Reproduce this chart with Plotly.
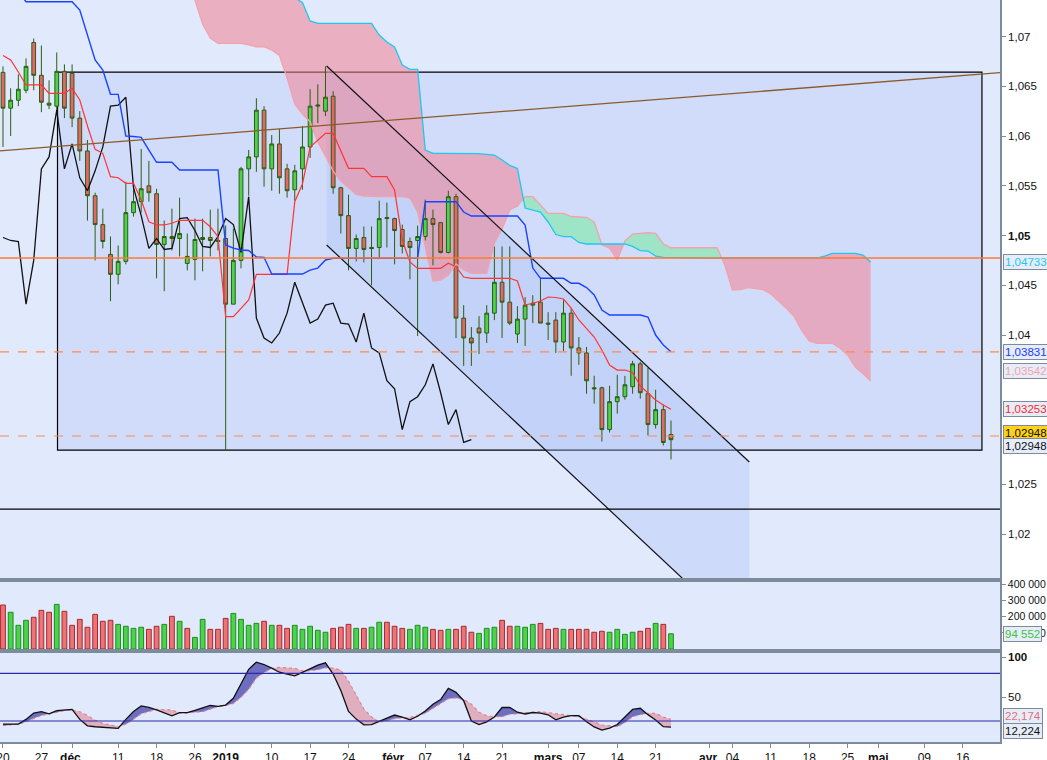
import numpy as np
import pandas as pd
import plotly.graph_objects as go

# trading calendar: weekdays without Christmas / New Year
HOLIDAYS = ["2018-12-25", "2019-01-01"]
days = pd.bdate_range("2018-11-20", "2019-06-28", freq="C", holidays=HOLIDAYS)
day_pos = {d.strftime("%Y-%m-%d"): i for i, d in enumerate(days)}

tick_dates = ["2018-11-20", "2018-11-27", "2018-12-03", "2018-12-11", "2018-12-18",
              "2018-12-26", "2019-01-02", "2019-01-10", "2019-01-17", "2019-01-24",
              "2019-02-01", "2019-02-07", "2019-02-14", "2019-02-21", "2019-03-01",
              "2019-03-07", "2019-03-14", "2019-03-21", "2019-04-01", "2019-04-04",
              "2019-04-11", "2019-04-18", "2019-04-25", "2019-05-01", "2019-05-09",
              "2019-05-16"]
tick_labels = ["20", "27", "<b>déc.</b>", "11", "18", "26", "<b>2019</b>", "10", "17", "24",
               "<b>févr.</b>", "07", "14", "21", "<b>mars</b>", "07", "14", "21", "<b>avr.</b>",
               "04", "11", "18", "25", "<b>mai</b>", "09", "16"]

# daily candles, 20 nov. 2018 -> 25 mars 2019
opens = [1.0664, 1.0628, 1.0636, 1.0646, 1.0694, 1.0661, 1.0633, 1.0630, 1.0665, 1.0663,
         1.0618, 1.0585, 1.0540, 1.0511, 1.0481, 1.0461, 1.0474, 1.0523, 1.0534, 1.0550,
         1.0542, 1.0491, 1.0497, 1.0497, 1.0472, 1.0476, 1.0496, 1.0498, 1.0495, 1.0497,
         1.0431, 1.0475, 1.0567, 1.0579, 1.0626, 1.0567, 1.0592, 1.0567, 1.0546, 1.0567,
         1.0589, 1.0630, 1.0625, 1.0640, 1.0548, 1.0520, 1.0487, 1.0498, 1.0488, 1.0488,
         1.0517, 1.0517, 1.0506, 1.0494, 1.0495, 1.0499, 1.0517, 1.0513, 1.0483, 1.0539,
         1.0417, 1.0397, 1.0407, 1.0402, 1.0422, 1.0453, 1.0433, 1.0401, 1.0416, 1.0430,
         1.0433, 1.0412, 1.0415, 1.0393, 1.0422, 1.0387, 1.0382, 1.0347, 1.0347, 1.0305,
         1.0333, 1.0338, 1.0348, 1.0371, 1.0341, 1.0310, 1.0325, 1.0300]
highs = [1.0670, 1.0648, 1.0662, 1.0678, 1.0698, 1.0691, 1.0656, 1.0684, 1.0672, 1.0672,
         1.0625, 1.0596, 1.0543, 1.0527, 1.0499, 1.0490, 1.0554, 1.0552, 1.0587, 1.0575,
         1.0547, 1.0515, 1.0527, 1.0538, 1.0502, 1.0517, 1.0517, 1.0526, 1.0527, 1.0510,
         1.0507, 1.0569, 1.0586, 1.0638, 1.0630, 1.0601, 1.0607, 1.0572, 1.0571, 1.0610,
         1.0647, 1.0652, 1.0670, 1.0645, 1.0549, 1.0541, 1.0501, 1.0509, 1.0509, 1.0535,
         1.0533, 1.0518, 1.0511, 1.0498, 1.0510, 1.0536, 1.0526, 1.0513, 1.0545, 1.0542,
         1.0430, 1.0408, 1.0419, 1.0430, 1.0489, 1.0489, 1.0489, 1.0429, 1.0438, 1.0440,
         1.0457, 1.0423, 1.0423, 1.0435, 1.0427, 1.0398, 1.0388, 1.0359, 1.0348, 1.0349,
         1.0360, 1.0359, 1.0374, 1.0373, 1.0367, 1.0345, 1.0330, 1.0314]
lows = [1.0589, 1.0600, 1.0630, 1.0643, 1.0646, 1.0624, 1.0627, 1.0623, 1.0618, 1.0609,
        1.0575, 1.0515, 1.0475, 1.0487, 1.0434, 1.0451, 1.0471, 1.0519, 1.0523, 1.0534,
        1.0457, 1.0444, 1.0485, 1.0479, 1.0465, 1.0455, 1.0464, 1.0479, 1.0485, 1.0284,
        1.0431, 1.0467, 1.0540, 1.0564, 1.0549, 1.0545, 1.0542, 1.0538, 1.0535, 1.0546,
        1.0578, 1.0613, 1.0620, 1.0542, 1.0502, 1.0465, 1.0474, 1.0473, 1.0450, 1.0478,
        1.0488, 1.0471, 1.0482, 1.0456, 1.0399, 1.0495, 1.0470, 1.0482, 1.0482, 1.0397,
        1.0369, 1.0369, 1.0381, 1.0392, 1.0415, 1.0397, 1.0410, 1.0392, 1.0389, 1.0412,
        1.0412, 1.0395, 1.0382, 1.0384, 1.0359, 1.0370, 1.0341, 1.0331, 1.0293, 1.0302,
        1.0321, 1.0335, 1.0341, 1.0336, 1.0299, 1.0306, 1.0289, 1.0275]
closes = [1.0628, 1.0636, 1.0647, 1.0670, 1.0661, 1.0634, 1.0631, 1.0665, 1.0628, 1.0618,
          1.0585, 1.0540, 1.0511, 1.0494, 1.0461, 1.0474, 1.0523, 1.0534, 1.0547, 1.0543,
          1.0491, 1.0499, 1.0499, 1.0502, 1.0479, 1.0496, 1.0498, 1.0495, 1.0494, 1.0431,
          1.0475, 1.0567, 1.0579, 1.0626, 1.0567, 1.0592, 1.0558, 1.0545, 1.0565, 1.0589,
          1.0630, 1.0631, 1.0639, 1.0548, 1.0520, 1.0487, 1.0497, 1.0486, 1.0487, 1.0517,
          1.0518, 1.0505, 1.0489, 1.0488, 1.0499, 1.0517, 1.0511, 1.0483, 1.0539, 1.0417,
          1.0397, 1.0392, 1.0402, 1.0422, 1.0453, 1.0433, 1.0412, 1.0416, 1.0430, 1.0432,
          1.0412, 1.0411, 1.0393, 1.0422, 1.0387, 1.0382, 1.0354, 1.0346, 1.0305, 1.0333,
          1.0338, 1.0350, 1.0371, 1.0342, 1.0310, 1.0325, 1.0292, 1.02948]

# Ichimoku
tenkan = [1.06809, 1.06764, 1.06643, 1.06513, 1.06513, 1.06513, 1.06429, 1.06429, 1.06429, 1.06479,
          1.06362, 1.06101, 1.05866, 1.05826, 1.05591, 1.05581, 1.05525, 1.05525, 1.05357, 1.05139,
          1.05106, 1.05106, 1.05123, 1.05153, 1.05153, 1.05153, 1.05153, 1.05088, 1.04988, 1.04184,
          1.04184, 1.04268, 1.04352, 1.04610, 1.04610, 1.04610, 1.04610, 1.04610, 1.05340, 1.05518,
          1.05889, 1.05960, 1.06027, 1.06027, 1.05859, 1.05675, 1.05675, 1.05675, 1.05591, 1.05591,
          1.05591, 1.05457, 1.04955, 1.04734, 1.04670, 1.04670, 1.04670, 1.04670, 1.04721, 1.04686,
          1.04583, 1.04570, 1.04570, 1.04570, 1.04570, 1.04570, 1.04570, 1.04543, 1.04302, 1.04319,
          1.04342, 1.04382, 1.04377, 1.04362, 1.04271, 1.04151, 1.04060, 1.03980, 1.03849, 1.03699,
          1.03648, 1.03648, 1.03623, 1.03488, 1.03417, 1.03347, 1.03297, 1.03253]
kijun = [1.07450, 1.07450, 1.07450, 1.07350, 1.07350, 1.07350, 1.07350, 1.07350, 1.07350, 1.07350,
         1.07266, 1.07005, 1.06764, 1.06663, 1.06419, 1.06419, 1.06000, 1.05995, 1.05987, 1.05859,
         1.05736, 1.05736, 1.05736, 1.05658, 1.05658, 1.05658, 1.05658, 1.05658, 1.05658, 1.04905,
         1.04874, 1.04854, 1.04849, 1.04784, 1.04781, 1.04613, 1.04613, 1.04613, 1.04613, 1.04613,
         1.04653, 1.04673, 1.04754, 1.04771, 1.04771, 1.04771, 1.04771, 1.04771, 1.04771, 1.04771,
         1.04771, 1.04771, 1.04771, 1.04771, 1.04771, 1.05340, 1.05340, 1.05340, 1.05340, 1.05340,
         1.05236, 1.05196, 1.05196, 1.05196, 1.05196, 1.05196, 1.05196, 1.05196, 1.05106, 1.04673,
         1.04570, 1.04570, 1.04570, 1.04570, 1.04520, 1.04520, 1.04477, 1.04402, 1.04251, 1.04201,
         1.04201, 1.04201, 1.04201, 1.04201, 1.04181, 1.04000, 1.03900, 1.03831]
CLOUD_START = 24  # first session index of the senkou arrays below
senkou_a = [1.07570, 1.07367, 1.07126, 1.06985, 1.06932, 1.06932, 1.06932, 1.06932, 1.06915, 1.06897,
            1.06897, 1.06864, 1.06809, 1.06583, 1.06322, 1.06221, 1.06144, 1.05940, 1.05799, 1.05648,
            1.05548, 1.05477, 1.05412, 1.05397, 1.05392, 1.05390, 1.05390, 1.05390, 1.05390, 1.05377,
            1.05236, 1.04884, 1.04543, 1.04553, 1.04603, 1.04714, 1.04653, 1.04620, 1.04620, 1.04620,
            1.04925, 1.05065, 1.05256, 1.05297, 1.05390, 1.05390, 1.05307, 1.05223, 1.05223, 1.05223,
            1.05191, 1.05186, 1.05183, 1.05136, 1.04905, 1.04874, 1.04754, 1.04945, 1.05015, 1.05022,
            1.05028, 1.05022, 1.04915, 1.04877, 1.04877, 1.04877, 1.04877, 1.04877, 1.04877, 1.04877,
            1.04704, 1.04452, 1.04457, 1.04477, 1.04467, 1.04456, 1.04412, 1.04342, 1.04271, 1.04191,
            1.04050, 1.03940, 1.03917, 1.03917, 1.03917, 1.03870, 1.03799, 1.03678, 1.03613, 1.03538]
senkou_b = [1.07900, 1.07900, 1.07900, 1.07900, 1.07900, 1.07900, 1.07900, 1.07900, 1.07900, 1.07900,
            1.07900, 1.07900, 1.07900, 1.07650, 1.07390, 1.07342, 1.07156, 1.07133, 1.07133, 1.07133,
            1.07133, 1.07133, 1.07133, 1.07133, 1.07133, 1.07015, 1.06945, 1.06894, 1.06714, 1.06670,
            1.06670, 1.05859, 1.05826, 1.05826, 1.05826, 1.05826, 1.05826, 1.05826, 1.05823, 1.05816,
            1.05809, 1.05759, 1.05704, 1.05675, 1.05276, 1.05256, 1.05236, 1.05136, 1.05010, 1.04988,
            1.04988, 1.04930, 1.04915, 1.04915, 1.04915, 1.04915, 1.04915, 1.04915, 1.04890, 1.04849,
            1.04844, 1.04794, 1.04781, 1.04779, 1.04774, 1.04774, 1.04774, 1.04774, 1.04774, 1.04774,
            1.04774, 1.04774, 1.04774, 1.04774, 1.04774, 1.04774, 1.04774, 1.04774, 1.04774, 1.04774,
            1.04774, 1.04774, 1.04774, 1.04794, 1.04821, 1.04821, 1.04821, 1.04821, 1.04804, 1.04733]
CHIKOU_LAG = 26

# volume
volumes = [273000, 228000, 147000, 178000, 197000, 240000, 228000, 277000, 234000, 147000,
           184000, 135000, 215000, 172000, 178000, 153000, 141000, 128000, 135000, 122000,
           141000, 153000, 203000, 172000, 128000, 72000, 184000, 122000, 122000, 190000,
           221000, 184000, 147000, 159000, 172000, 147000, 147000, 128000, 147000, 122000,
           141000, 116000, 104000, 128000, 135000, 153000, 128000, 128000, 135000, 166000,
           166000, 141000, 128000, 122000, 147000, 135000, 122000, 116000, 122000, 122000,
           141000, 104000, 97000, 128000, 135000, 178000, 141000, 141000, 135000, 153000,
           159000, 122000, 128000, 122000, 122000, 122000, 122000, 104000, 110000, 104000,
           122000, 91000, 104000, 110000, 128000, 159000, 153000, 94552]
# bar colour as drawn: u = green, d = red
vol_dir = ("duuudddudd" "ddddduuuud" "dududuuddd" "uuuududduu" "uuuddduduu"
           "ddduuuddud" "dduuudduuu" "dddudddddu" "uuuddudu")

# stochastic
stoch_k = [16.2, 16.2, 16.2, 22.0, 30.0, 31.7, 29.0, 33.0, 34.0, 34.6,
           22.0, 14.0, 12.8, 12.2, 11.5, 10.8, 22.0, 32.0, 39.0, 37.0,
           34.0, 30.0, 26.5, 30.5, 30.5, 33.5, 37.0, 39.5, 38.5, 40.0,
           48.5, 66.0, 85.0, 94.0, 91.0, 86.4, 81.3, 78.8, 76.7, 81.2,
           86.0, 90.2, 93.2, 79.0, 58.4, 32.0, 22.4, 15.2, 15.4, 19.0,
           23.5, 27.5, 25.0, 21.5, 26.0, 32.5, 41.0, 47.0, 61.0, 56.0,
           45.5, 20.0, 15.5, 19.0, 25.0, 37.0, 37.0, 31.0, 28.8, 30.7,
           30.0, 27.8, 21.5, 25.0, 26.7, 26.7, 19.0, 12.5, 8.5, 11.0,
           15.5, 25.0, 34.5, 36.0, 28.0, 21.3, 12.8, 12.224]
stoch_d = [14.0, 15.0, 16.2, 19.0, 23.5, 27.0, 29.0, 31.0, 33.0, 33.8,
           31.7, 27.0, 21.0, 17.0, 14.5, 12.9, 16.0, 22.0, 29.0, 32.0,
           34.6, 34.4, 33.8, 30.0, 30.0, 31.0, 31.7, 35.0, 38.0, 39.5,
           42.0, 50.0, 60.0, 74.0, 81.0, 86.0, 87.5, 86.8, 86.2, 83.0,
           83.0, 84.5, 87.0, 86.5, 84.0, 70.0, 52.0, 35.0, 25.0, 18.5,
           20.0, 23.0, 24.0, 24.6, 27.0, 29.6, 36.0, 42.0, 48.0, 49.0,
           47.0, 41.0, 31.0, 26.5, 25.4, 25.4, 28.5, 29.0, 30.5, 31.0,
           31.7, 30.5, 29.6, 28.0, 26.5, 25.4, 22.0, 19.0, 15.0, 14.0,
           12.9, 18.0, 25.4, 28.0, 29.5, 29.6, 25.0, 22.174]

# drawn objects (session index, price)
box_x = [7.1, 127.5]
box_y = [1.02844, 1.06643]
channel_x = [42.15, 97.2]
channel_upper = [1.06704, 1.02724]
channel_lower = [1.04905, 1.00925]
trend_x = [-0.4, 130.0]
trend_y = [1.05851, 1.06638]
level_solid = 1.04774
levels_dashed = [1.03831, 1.02985]
level_black = 1.02251

X_RANGE = [-0.39, 129.85]
Y_RANGE = [1.01558, 1.07367]
N = len(opens)
xs = list(range(N))


def band(x, top, bot):
    """polygon filling the area where top > bot (crossings inserted)"""
    px, pt, pb = [x[0]], [top[0]], [bot[0]]
    for k in range(1, len(x)):
        d0, d1 = top[k - 1] - bot[k - 1], top[k] - bot[k]
        if d0 * d1 < 0:
            f = d0 / (d0 - d1)
            px.append(x[k - 1] + f * (x[k] - x[k - 1]))
            yc = top[k - 1] + f * (top[k] - top[k - 1])
            pt.append(yc)
            pb.append(yc)
        px.append(x[k])
        pt.append(top[k])
        pb.append(bot[k])
    px, pt, pb = np.array(px), np.array(pt), np.array(pb)
    upper = np.maximum(pt, pb)
    return list(px) + list(px[::-1]), list(upper) + list(pb[::-1])


fig = go.Figure()

# --- base price layer (y): channel shading and kumo fills ---
fig.add_trace(go.Scatter(
    x=[channel_x[0], channel_x[1], channel_x[1], channel_x[0], channel_x[0]],
    y=[channel_upper[0], channel_upper[1], channel_lower[1], channel_lower[0], channel_upper[0]],
    fill="toself", fillcolor="rgba(170,192,246,0.35)", mode="lines", line_width=0,
    hoverinfo="skip"))

cx = [CLOUD_START + i for i in range(len(senkou_a))]
bx, by = band(cx, senkou_b, senkou_a)
fig.add_trace(go.Scatter(x=bx, y=by, fill="toself", fillcolor="rgba(242,130,146,0.55)",
                         mode="lines", line_width=0, hoverinfo="skip"))
gx, gy = band(cx, senkou_a, senkou_b)
fig.add_trace(go.Scatter(x=gx, y=gy, fill="toself", fillcolor="rgba(130,232,170,0.65)",
                         mode="lines", line_width=0, hoverinfo="skip"))

# --- overlay price layer (y4): candles above the cloud, lines above candles ---
fig.add_trace(go.Candlestick(
    x=xs, open=opens, high=highs, low=lows, close=closes, yaxis="y4",
    increasing=dict(fillcolor="#4cd24c", line=dict(color="#2b5e10", width=1)),
    decreasing=dict(fillcolor="#e4666a", line=dict(color="#2b5e10", width=1)),
    whiskerwidth=0))
fig.add_trace(go.Scatter(x=cx, y=senkou_a, yaxis="y4", mode="lines",
                         line=dict(color="#f4a2aa", width=1.3)))
fig.add_trace(go.Scatter(x=cx, y=senkou_b, yaxis="y4", mode="lines",
                         line=dict(color="#1ec8f0", width=1.3)))
fig.add_trace(go.Scatter(x=xs[:N - CHIKOU_LAG], y=closes[CHIKOU_LAG:], yaxis="y4", mode="lines",
                         line=dict(color="#111111", width=1.3)))
fig.add_trace(go.Scatter(x=xs, y=tenkan, yaxis="y4", mode="lines",
                         line=dict(color="#ff3434", width=1.2)))
fig.add_trace(go.Scatter(x=xs, y=kijun, yaxis="y4", mode="lines",
                         line=dict(color="#1844ff", width=1.4)))
for ys in (channel_upper, channel_lower):
    fig.add_trace(go.Scatter(x=channel_x, y=ys, yaxis="y4", mode="lines",
                             line=dict(color="#111111", width=1.2)))
fig.add_trace(go.Scatter(x=trend_x, y=trend_y, yaxis="y4", mode="lines",
                         line=dict(color="#8c5a2a", width=1.3)))

# volume
up_col, dn_col = "#4cd24c", "#ec7478"
fig.add_trace(go.Bar(
    x=xs, y=volumes, xaxis="x2", yaxis="y2", width=0.62,
    marker=dict(color=[up_col if c == "u" else dn_col for c in vol_dir],
                line=dict(color=["#1e8c1e" if c == "u" else "#a82828" for c in vol_dir], width=1))))

# stochastic
kx, ky = band(xs, stoch_k, stoch_d)
fig.add_trace(go.Scatter(x=kx, y=ky, xaxis="x3", yaxis="y3", fill="toself",
                         fillcolor="rgba(62,62,170,0.72)", mode="lines", line_width=0))
dx, dy = band(xs, stoch_d, stoch_k)
fig.add_trace(go.Scatter(x=dx, y=dy, xaxis="x3", yaxis="y3", fill="toself",
                         fillcolor="rgba(220,120,135,0.52)", mode="lines", line_width=0))
fig.add_trace(go.Scatter(x=xs, y=stoch_d, xaxis="x3", yaxis="y3", mode="lines",
                         line=dict(color="#e8808c", width=1.2, dash="dot")))
fig.add_trace(go.Scatter(x=xs, y=stoch_k, xaxis="x3", yaxis="y3", mode="lines",
                         line=dict(color="#111111", width=1.3)))

shapes = [
    dict(type="rect", xref="x", yref="y", x0=box_x[0], x1=box_x[1], y0=box_y[0], y1=box_y[1],
         fillcolor="rgba(178,198,246,0.36)", line=dict(color="#000000", width=1.2), layer="below"),
    dict(type="line", xref="paper", yref="y", x0=0, x1=1, y0=level_black, y1=level_black,
         line=dict(color="#000000", width=1.2)),
    dict(type="line", xref="paper", yref="y", x0=0, x1=1, y0=level_solid, y1=level_solid,
         line=dict(color="#ff7a30", width=1.4)),
]
for lv in levels_dashed:
    shapes.append(dict(type="line", xref="paper", yref="y", x0=0, x1=1, y0=lv, y1=lv,
                       line=dict(color="#ff8a50", width=1.2, dash="dash")))
for lv in (20, 80):
    shapes.append(dict(type="line", xref="paper", yref="y3", x0=0, x1=1, y0=lv, y1=lv,
                       line=dict(color="#2a2aa8", width=1.2)))

FONT = "Liberation Sans, Arial, sans-serif"
AX = "#7d8c9c"
H = 742.0
common = dict(showgrid=False, zeroline=False, showline=True, linecolor=AX, linewidth=1.5,
              automargin=False)
right_ticks = dict(ticks="outside", ticklen=4, tickcolor=AX, ticklabeloverflow="allow")
fig.update_layout(
    width=1047, height=760, margin=dict(l=0, r=47, t=0, b=18, autoexpand=False),
    paper_bgcolor="white", plot_bgcolor="#e1e9fc", showlegend=False, hovermode=False,
    font=dict(family=FONT, size=12, color="#111111"), shapes=shapes,
    xaxis=dict(range=X_RANGE, anchor="y", showticklabels=False,
               rangeslider=dict(visible=False), **common),
    xaxis2=dict(matches="x", anchor="y2", showticklabels=False, mirror=True, **common),
    xaxis3=dict(matches="x", anchor="y3", mirror=True, ticks="outside", ticklen=4, tickcolor=AX,
                tickvals=[day_pos[d] for d in tick_dates], ticktext=tick_labels,
                ticklabeloverflow="allow", tickfont=dict(size=12, color="#111111"), **common),
    yaxis=dict(domain=[(H - 578) / H, 1], range=Y_RANGE, side="right", anchor="x",
               tickvals=[1.02, 1.025, 1.04, 1.045, 1.05, 1.055, 1.06, 1.065, 1.07],
               ticktext=["1,02", "1,025", "1,04", "1,045", "<b>1,05</b>", "1,055", "1,06", "1,065", "1,07"],
               tickfont=dict(size=11.5, color="#111111"), **right_ticks, **common),
    yaxis4=dict(overlaying="y", range=Y_RANGE, side="right", anchor="x", visible=False,
                showgrid=False, zeroline=False),
    yaxis2=dict(domain=[(H - 649) / H, (H - 582) / H], range=[0, 416000], side="right", anchor="x2",
                tickvals=[100000, 200000, 300000, 400000],
                ticktext=["100 000", "200 000", "300 000", "400 000"],
                tickfont=dict(size=10.5, color="#111111"), **right_ticks, **common),
    yaxis3=dict(domain=[0, (H - 653) / H], range=[-6.4, 105.5], side="right", anchor="x3",
                tickvals=[50, 100], ticktext=["50", "<b>100</b>"],
                tickfont=dict(size=11.5, color="#111111"), **right_ticks, **common),
)


def side_label(text, yref, y, color, bg="#e6edf9", yshift=0):
    fig.add_annotation(xref="paper", x=1, xanchor="left", xshift=3, yref=yref, y=y,
                       yshift=yshift, text=text, showarrow=False,
                       font=dict(color=color, size=11.5, family=FONT), bgcolor=bg,
                       bordercolor=AX, borderwidth=1, borderpad=1)


side_label("1,04733", "y", senkou_b[-1], "#1ec8f0")
side_label("1,03831", "y", kijun[-1], "#1a3aff")
side_label("1,03542", "y", senkou_a[-1], "#f4a2aa", yshift=10)
side_label("1,03253", "y", tenkan[-1], "#ff2a2a")
side_label("1,02948", "y", closes[-1], "#111111", bg="#ffd21a", yshift=7)
side_label("1,02948", "y", closes[-1], "#111111", yshift=-6)
side_label("94 552", "y2", volumes[-1], "#3ec43e")
side_label("22,174", "y3", stoch_d[-1], "#e07080", yshift=3)
side_label("12,224", "y3", stoch_k[-1], "#111111", yshift=-4)

# page without body margin so the 1047x760 figure fills the window
fig.write_html("out.html", config={"displayModeBar": False},
               post_script="document.body.style.margin='0';")
